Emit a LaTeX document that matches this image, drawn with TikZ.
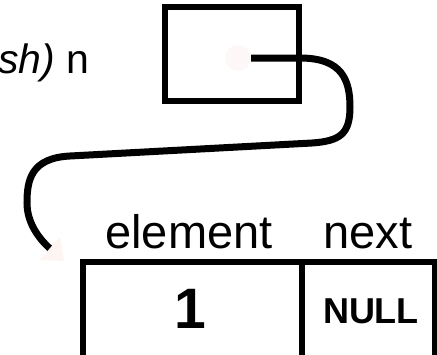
\documentclass[tikz,border=0pt]{standalone}
\usepackage{fontspec}
\setmainfont{Liberation Sans}
\usetikzlibrary{arrows.meta}
\definecolor{dotpink}{RGB}{253,248,247}
\definecolor{tippink}{RGB}{254,245,243}
\begin{document}
\begin{tikzpicture}[x=1pt,y=-1pt,
        cell/.style={draw, line width=6pt, inner sep=0pt},
        field/.style={font=\fontsize{47}{50}\selectfont, anchor=base}]
    \useasboundingbox (0,0) rectangle (437,354);
    \node[anchor=base east, font=\fontsize{41}{44}\selectfont] (name) at (93,73) {\textit{sh)} n};
    \node[cell, minimum width=134pt, minimum height=94pt] (var) at (231.5,54) {};
    \node[circle, fill=dotpink, minimum size=26pt, inner sep=0pt] (ptr) at (238,58) {};

    \node[cell, minimum width=218.5pt, minimum height=100pt] (elem) at (192.25,312) {};
    \node[cell, minimum width=133pt, minimum height=100pt] (next) at (368,312) {};
    \node[field] (elemlabel) at (189,248) {element};
    \node[field] (nextlabel) at (368,248) {next};
    \node[anchor=base, font=\fontsize{57}{60}\selectfont\bfseries] (value) at (190,328) {1};
    \node[anchor=base, font=\fontsize{36}{40}\selectfont\bfseries] (null) at (371,323) {NULL};

    \coordinate (tip) at (64,261);
    \draw[line width=7pt, -{Triangle[length=19pt,width=30pt,color=tippink]}]
        (ptr.east) -- (300,58) .. controls (342,58) and (350,80) .. (350,107)
        .. controls (350,134) and (340,141) .. (312,143) -- (70,156)
        .. controls (31,158) and (27,180) .. (27,203)
        .. controls (27,222) and (38,238) .. (tip);
\end{tikzpicture}
\end{document}
